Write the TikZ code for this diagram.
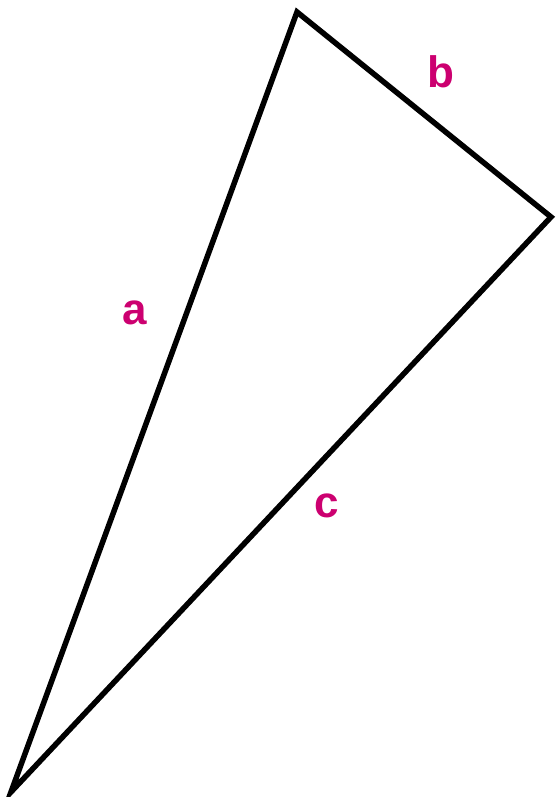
\documentclass[tikz,border=0pt]{standalone}
\usepackage{fontspec}
\setmainfont{Liberation Sans}
\usepackage{tikz}
\usetikzlibrary{positioning, calc}
\definecolor{sidecol}{HTML}{CC0070}
\tikzset{
  side/.style={line width=5.5pt, black, line join=miter},
  sidelabel/.style={text=sidecol, font=\fontsize{44}{50}\selectfont\bfseries, inner sep=0pt}
}

\begin{document}
\begin{tikzpicture}[x=1pt, y=1pt]
\useasboundingbox (0,0) rectangle (557,797);
% corners of the triangle
\coordinate (top) at (297,785);
\coordinate (right) at (551,580);
\coordinate (bottom) at (11,5);

% sides
\draw[side] (bottom) -- (top) -- (right) -- cycle;

% labels
\node[sidelabel] (la) at (135,484) {a};
\node[sidelabel] (lb) at (441,725) {b};
\node[sidelabel] (lc) at (327,291) {c};
\end{tikzpicture}
\end{document}
